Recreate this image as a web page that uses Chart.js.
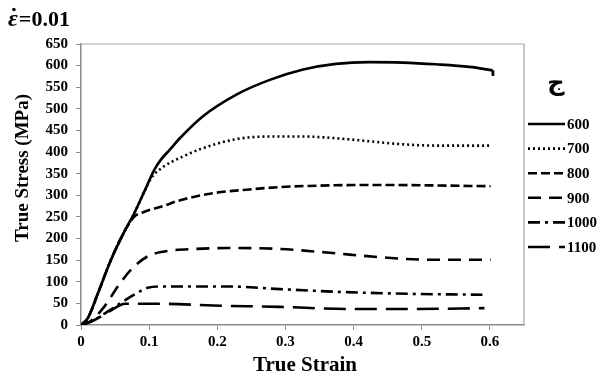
<!DOCTYPE html>
<html><head><meta charset="utf-8">
<script src="https://cdn.jsdelivr.net/npm/chart.js@4/dist/chart.umd.min.js"></script>
<style>html,body{margin:0;padding:0;background:#fff}#wrap{width:614px;height:378px}</style>
</head><body><div id="wrap"><canvas id="c" width="614" height="378"></canvas></div>
<script>
// ---- data ----
const seriesLabels = ['600','700','800','900','1000','1100'];
const strain600 = [0,0.01,0.025,0.044,0.064,0.078,0.093,0.1075,0.117,0.13,0.145,0.179,0.228,0.277,0.326,0.374,0.423,0.472,0.521,0.57,0.604];
const stress600 = [0,16,74,151,217,258,309,359,382,405,432,483,533,567,591,604,608,607,603,597,589];
const tailStrain600 = [0.604,0.6045];
const tailStress600 = [589,576];
const strain700 = [0,0.01,0.025,0.044,0.064,0.078,0.093,0.103,0.12,0.15,0.179,0.228,0.277,0.326,0.374,0.423,0.472,0.521,0.6];
const stress700 = [0,16,74,151,217,258,309,340,365,390,409,430,436,436,432,425,418,415,415];
const strain800 = [0,0.01,0.025,0.044,0.064,0.078,0.093,0.122,0.142,0.194,0.243,0.292,0.365,0.438,0.511,0.601];
const stress800 = [0,16,74,151,217,250,262,276,287,305,313,319,323,324,323,321];
const strain900 = [0,0.015,0.0345,0.054,0.0735,0.098,0.122,0.169,0.218,0.292,0.365,0.438,0.511,0.601];
const stress900 = [0,10,43,89,128,159,170,176,178,176,167,157,151,151];
const strain1000 = [0,0.015,0.039,0.078,0.098,0.117,0.159,0.218,0.292,0.389,0.487,0.589];
const stress1000 = [0,8,31,70,86,89,89,89,83,76,72,70];
const strain1100 = [0,0.015,0.039,0.054,0.064,0.12,0.194,0.292,0.389,0.487,0.592];
const stress1100 = [0,8,29,43,49,49,45,42,37,37,39];
const xTickValues = [0,0.1,0.2,0.3,0.4,0.5,0.6];

const strains = [strain600,strain700,strain800,strain900,strain1000,strain1100];
const stresses = [stress600,stress700,stress800,stress900,stress1000,stress1100];
const dashes = [[],[2,3],[9,4],[13,8],[12,5,3,5],[22,9]];

const SERIF = '"Liberation Serif","Times New Roman",serif';

const datasets = seriesLabels.map((lab,i)=>({
  label: lab,
  data: strains[i].map((x,j)=>({x:x,y:stresses[i][j]})),
  showLine: true,
  borderColor: '#000',
  backgroundColor: '#000',
  borderWidth: 2.6,
  borderDash: dashes[i],
  pointRadius: 0,
  cubicInterpolationMode: 'monotone',
  fill: false
}));
datasets.push({
  label: '',
  isTail: true,
  data: tailStrain600.map((x,j)=>({x:x,y:tailStress600[j]})),
  showLine: true, borderColor: '#000', borderWidth: 2.6, pointRadius: 0, tension: 0
});

const decor = {
  id: 'decor',
  afterDraw(chart){
    const ctx = chart.ctx, a = chart.chartArea;
    ctx.save();
    // plot border (top/right)
    ctx.strokeStyle = '#a6a6a6'; ctx.lineWidth = 1.2; ctx.setLineDash([]);
    ctx.beginPath();
    ctx.moveTo(a.left, a.top); ctx.lineTo(a.right, a.top); ctx.lineTo(a.right, a.bottom);
    ctx.stroke();
    // title
    ctx.fillStyle = '#000'; ctx.textBaseline = 'alphabetic'; ctx.textAlign = 'left';
    ctx.font = 'italic bold 24px ' + SERIF;
    ctx.fillText('\u03B5', 8, 26);
    const w = ctx.measureText('\u03B5').width;
    ctx.beginPath(); ctx.arc(8 + w*0.6, 9.5, 1.8, 0, Math.PI*2); ctx.fill();
    ctx.font = 'bold 22px ' + SERIF;
    ctx.fillText('=0.01', 8 + w + 1, 26);
    // axis titles
    ctx.font = 'bold 21px ' + SERIF; ctx.textAlign = 'center'; ctx.textBaseline = 'middle';
    ctx.fillText('True Strain', 305, 366);
    ctx.save();
    ctx.translate(23, 168); ctx.rotate(-Math.PI/2);
    ctx.font = 'bold 19px ' + SERIF;
    ctx.fillText('True Stress (MPa)', 0, 0);
    ctx.restore();
    // legend
    ctx.font = 'bold 24px "DejaVu Sans", sans-serif';
    ctx.fillText('\u062C', 556, 84);
    ctx.font = 'bold 15px ' + SERIF; ctx.textAlign = 'left';
    chart.data.datasets.filter(ds=>!ds.isTail).forEach((ds,i)=>{
      const y = 124 + i*24.6;
      ctx.strokeStyle = ds.borderColor; ctx.lineWidth = ds.borderWidth;
      ctx.setLineDash(ds.borderDash);
      ctx.beginPath(); ctx.moveTo(528, y); ctx.lineTo(565, y); ctx.stroke();
      ctx.setLineDash([]);
      ctx.fillText(ds.label, 567, y+1);
    });
    ctx.restore();
  }
};

new Chart(document.getElementById('c'), {
  type: 'scatter',
  data: { datasets },
  options: {
    responsive: false,
    animation: false,
    devicePixelRatio: 1,
    layout: { padding: { left: 0, top: 44, right: 90, bottom: 0 } },
    plugins: { legend: { display: false }, tooltip: { enabled: false }, title: { display: false } },
    scales: {
      x: {
        type: 'linear', min: 0, max: 0.65,
        afterBuildTicks: s => { s.ticks = xTickValues.map(v=>({value:v})); },
        afterFit: s => { s.height = 53; },
        border: { display: true, color: '#8c8c8c', width: 1.5 },
        grid: { drawOnChartArea: false, drawTicks: true, tickLength: 5, color: '#8c8c8c' },
        ticks: { color: '#000', padding: 3, maxRotation: 0, font: { family: SERIF, size: 15, weight: 'bold' },
                 callback: v => String(Math.round(v*10)/10) }
      },
      y: {
        type: 'linear', min: 0, max: 650,
        afterFit: s => { s.width = 81; },
        border: { display: true, color: '#8c8c8c', width: 1.5 },
        grid: { drawOnChartArea: false, drawTicks: true, tickLength: 5, color: '#8c8c8c' },
        ticks: { stepSize: 50, color: '#000', padding: 8, font: { family: SERIF, size: 15, weight: 'bold' } }
      }
    }
  },
  plugins: [decor]
});
</script></body></html>
